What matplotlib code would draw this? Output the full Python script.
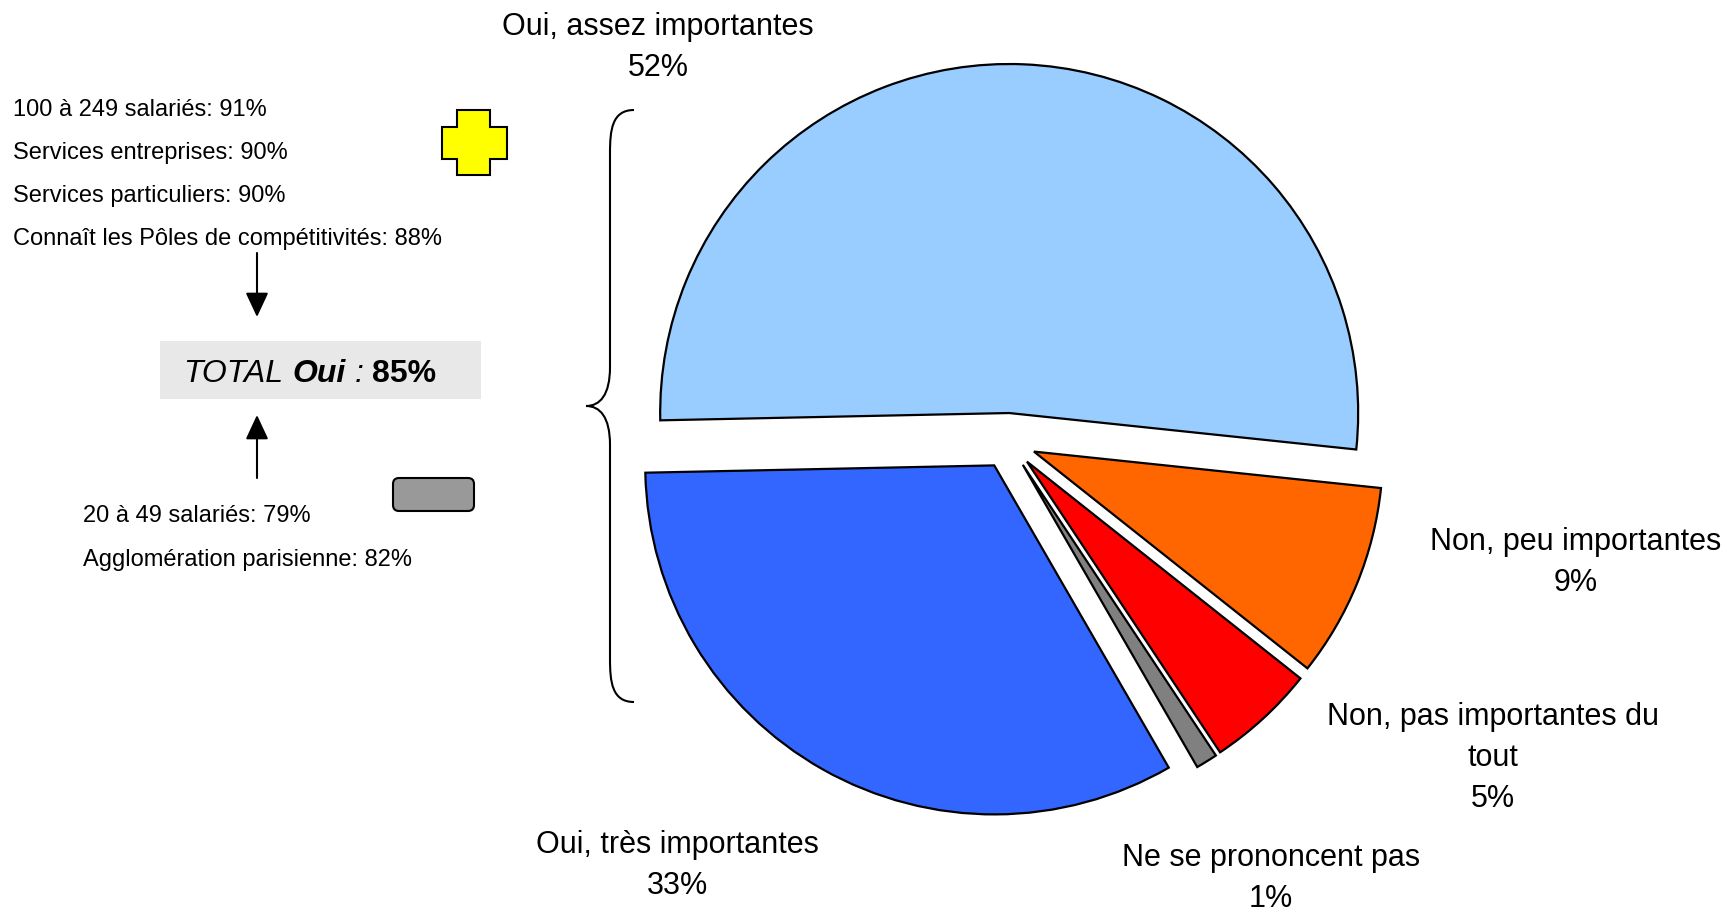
import matplotlib
matplotlib.use("Agg")
import matplotlib.pyplot as plt
from matplotlib.patches import Rectangle, FancyBboxPatch, Polygon, PathPatch
from matplotlib.path import Path

W, H = 1728, 911

# pie data
labels = ["Oui, assez importantes", "Oui, très importantes", "Ne se prononcent pas",
          "Non, pas importantes du\ntout", "Non, peu importantes"]
values = [52, 33, 1, 5, 9]
colors = ["#99CCFF", "#3366FF", "#808080", "#FF0000", "#FF6600"]

# side panel
plus_items = ["100 à 249 salariés: 91%", "Services entreprises: 90%",
              "Services particuliers: 90%", "Connaît les Pôles de compétitivités: 88%"]
minus_items = ["20 à 49 salariés: 79%", "Agglomération parisienne: 82%"]
total_oui = 85

plt.rcParams['font.family'] = ['Liberation Sans', 'DejaVu Sans']

fig = plt.figure(figsize=(W / 100, H / 100), dpi=100)
ax = fig.add_axes([0, 0, 1, 1])

def py(y):
    # pixel row (from top) -> data y
    return H - y

TY = 3  # small downward nudge for text

ax.pie(values, colors=colors, startangle=-6, center=(1008, py(441)), radius=349,
       explode=[28] * len(values),
       wedgeprops=dict(edgecolor="black", linewidth=1.6))
ax.set_xlim(0, W)
ax.set_ylim(0, H)
ax.set_aspect("equal")
ax.axis("off")

# slice labels (center x, first line y)
label_pos = [(658, 24), (677, 842), (1271, 855), (1493, 714), (1576, 539)]
step = 41
for lab, v, (x, y) in zip(labels, values, label_pos):
    lines = lab.split("\n") + [f"{v}%"]
    for i, ln in enumerate(lines):
        ax.text(x, py(y + i * step + TY), ln, ha="center", va="center", fontsize=22)

# brace
verts = [(634, 110), (612, 110), (610, 130), (610, 153),
         (610, 367),
         (610, 395), (600, 406), (586, 406),
         (600, 406), (610, 417), (610, 445),
         (610, 659),
         (610, 682), (612, 702), (634, 702)]
codes = [Path.MOVETO, Path.CURVE4, Path.CURVE4, Path.CURVE4,
         Path.LINETO,
         Path.CURVE4, Path.CURVE4, Path.CURVE4,
         Path.CURVE4, Path.CURVE4, Path.CURVE4,
         Path.LINETO,
         Path.CURVE4, Path.CURVE4, Path.CURVE4]
brace = Path([(x, py(y)) for x, y in verts], codes)
ax.add_patch(PathPatch(brace, facecolor="none", edgecolor="black", lw=1.5))

# left texts
for i, t in enumerate(plus_items):
    ax.text(13, py(107 + i * 43 + TY), t, ha="left", va="center", fontsize=17)
for i, t in enumerate(minus_items):
    ax.text(83, py(513 + i * 44 + TY), t, ha="left", va="center", fontsize=17)

# arrows
arr = dict(arrowstyle="-|>,head_length=0.75,head_width=0.35", color="black",
           lw=1.5, shrinkA=0, shrinkB=0, mutation_scale=20)
ax.annotate("", xy=(257, py(317)), xytext=(257, py(253)), arrowprops=arr)
ax.annotate("", xy=(257, py(415)), xytext=(257, py(478)), arrowprops=arr)

# yellow plus
plus = [(457, 110), (490, 110), (490, 127), (507, 127), (507, 159), (490, 159),
        (490, 175), (457, 175), (457, 159), (442, 159), (442, 127), (457, 127)]
ax.add_patch(Polygon([(x, py(y)) for x, y in plus], closed=True,
                     facecolor="#FFFF00", edgecolor="black", lw=1.5))

# gray minus
ax.add_patch(FancyBboxPatch((393, py(511)), 81, 33,
                            boxstyle="round,pad=0,rounding_size=6",
                            facecolor="#999999", edgecolor="black", lw=1.5))

# total box
ax.add_patch(Rectangle((160, py(399)), 321, 58, facecolor="#E8E8E8", edgecolor="none"))
fig.canvas.draw()
r = fig.canvas.get_renderer()
x0 = 183
pieces = [("TOTAL", "italic", "normal"), ("Oui", "italic", "bold"),
          (":", "italic", "normal"), (f"{total_oui}%", "normal", "bold")]
gap = 9
for txt, st, wt in pieces:
    t = ax.text(x0, py(371 + TY), txt, ha="left", va="center", fontsize=23,
                style=st, weight=wt)
    bb = t.get_window_extent(renderer=r)
    x0 = x0 + bb.width + gap

fig.savefig("out.png", dpi=100)
